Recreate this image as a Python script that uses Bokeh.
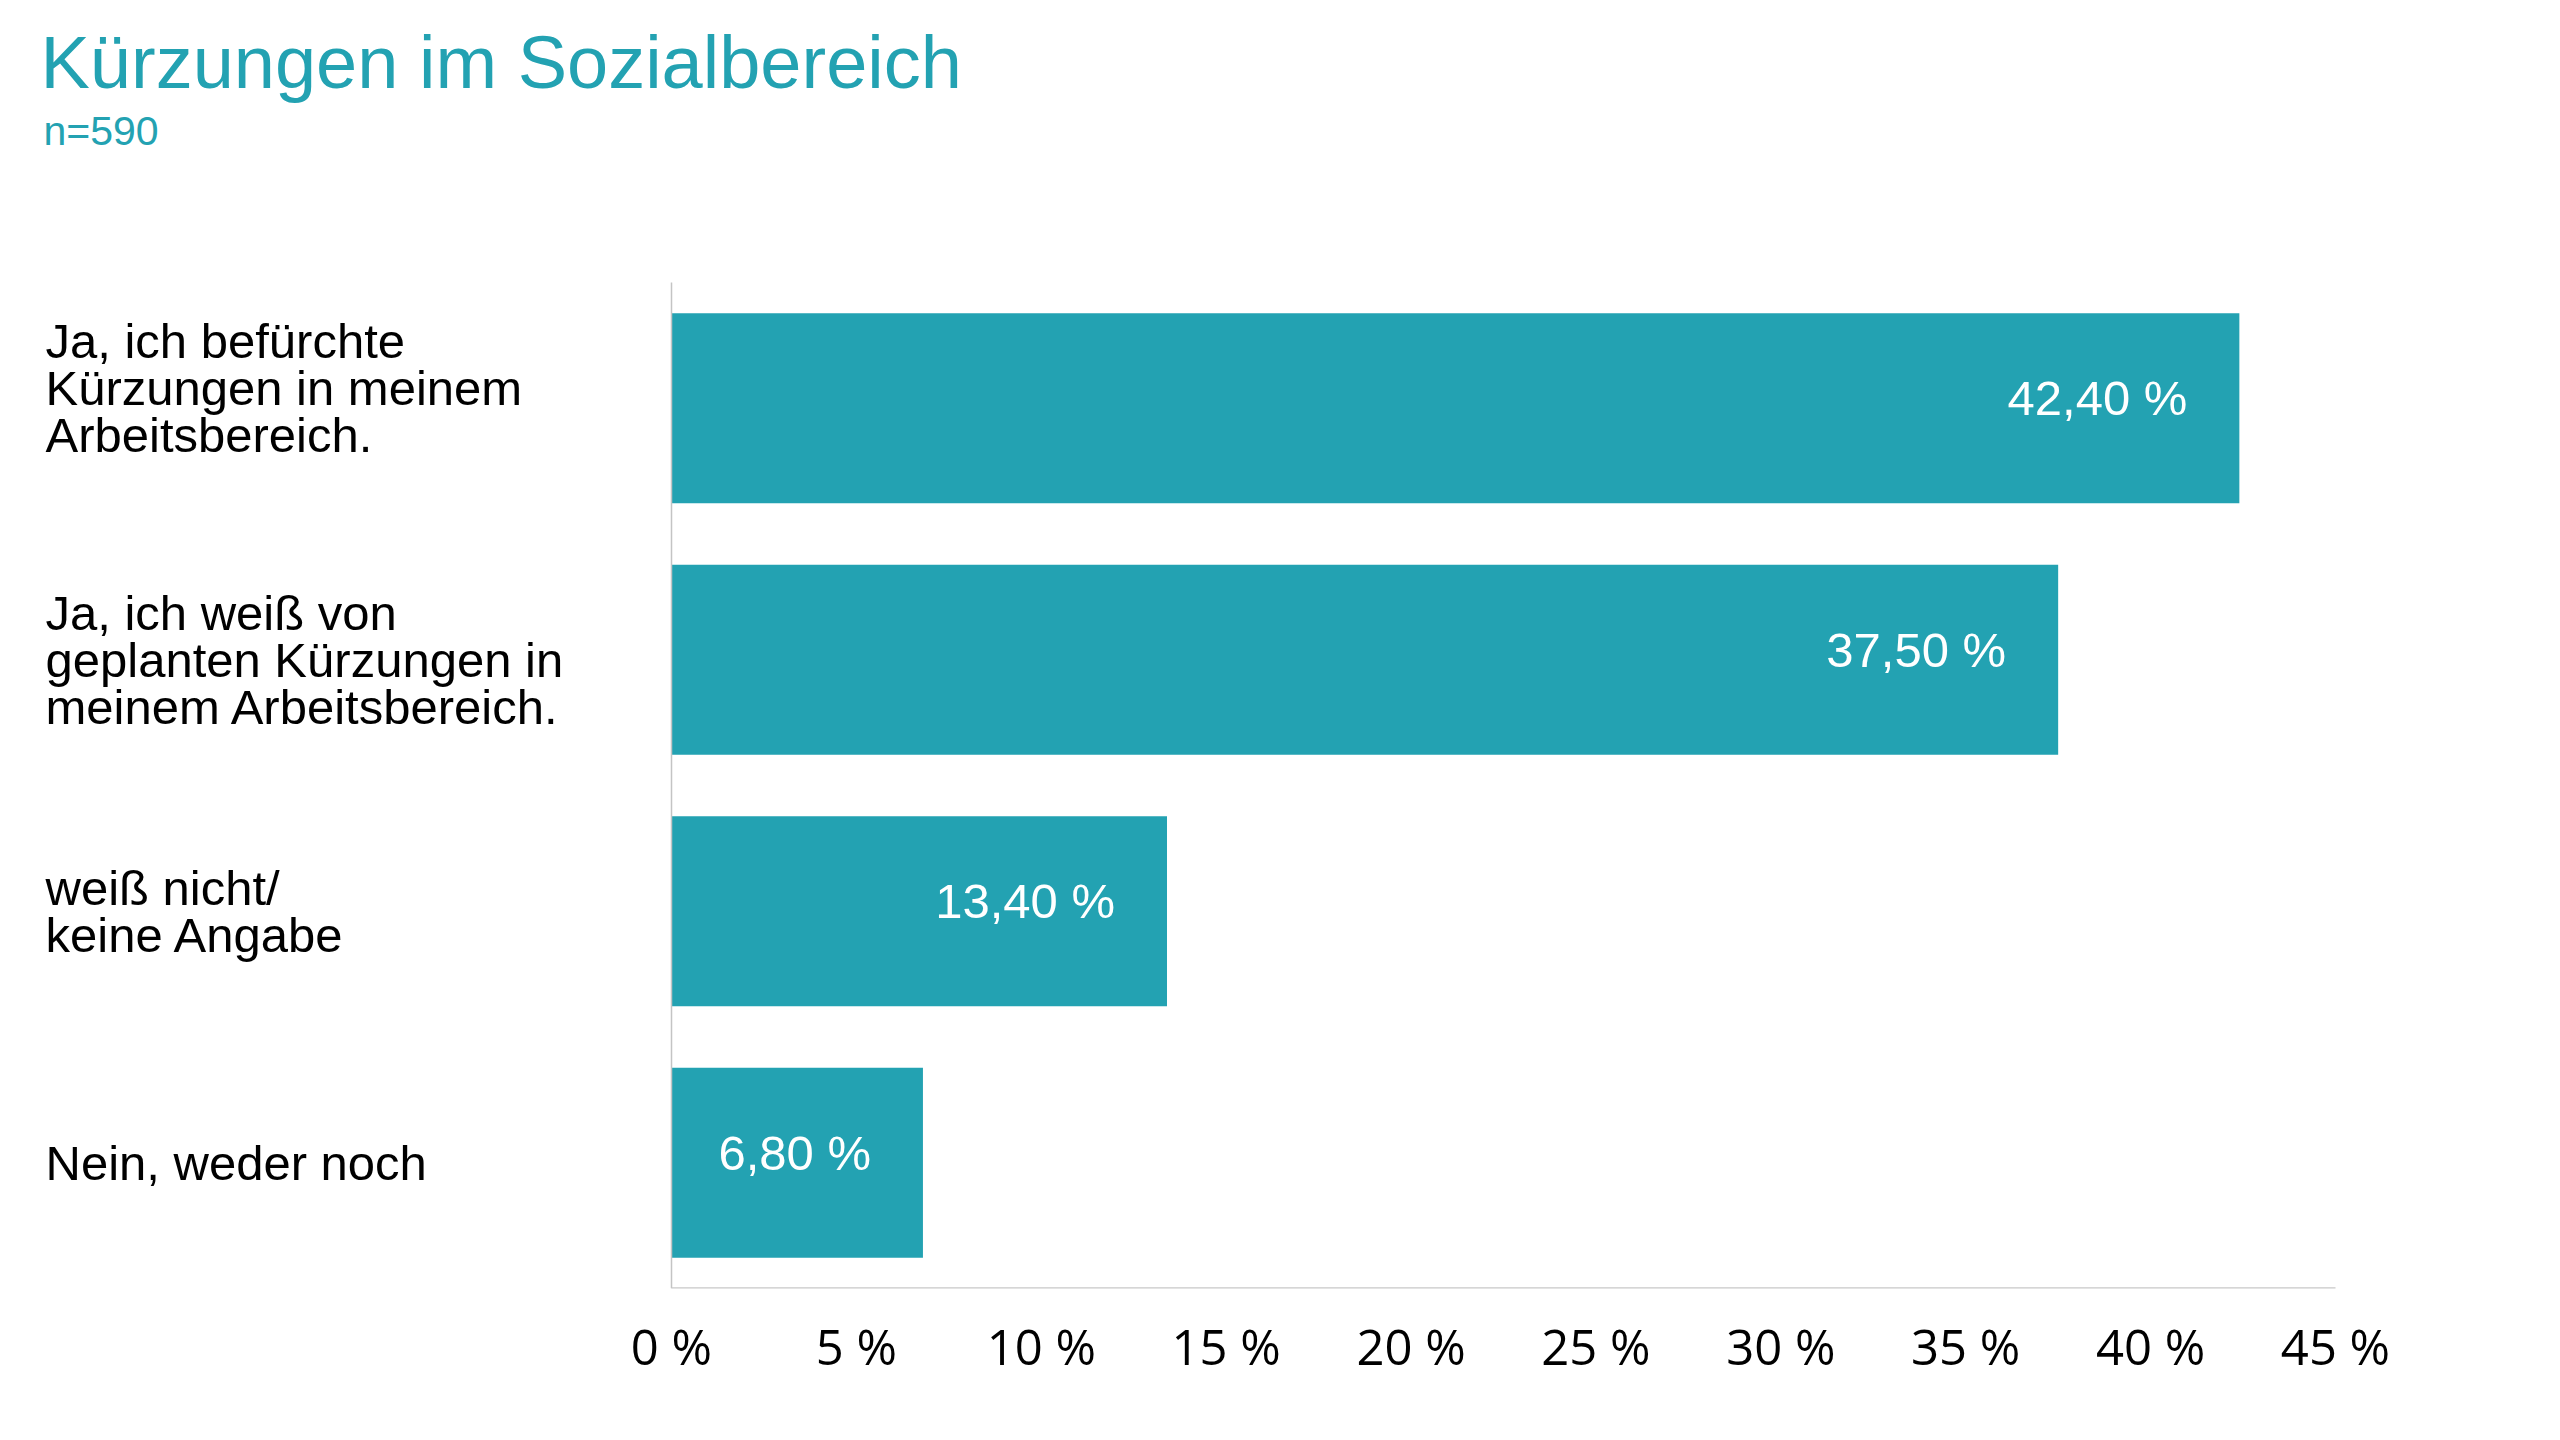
from bokeh.plotting import figure
from bokeh.models import Range1d, FixedTicker
from bokeh.core.properties import value
from bokeh.embed import file_html
from bokeh.resources import INLINE

# ---- data ----
title_text = "Kürzungen im Sozialbereich"
subtitle_text = "n=590"
categories = [
    "Ja, ich befürchte\nKürzungen in meinem\nArbeitsbereich.",
    "Ja, ich weiß von\ngeplanten Kürzungen in\nmeinem Arbeitsbereich.",
    "weiß nicht/\nkeine Angabe",
    "Nein, weder noch",
]
values = [42.40, 37.50, 13.40, 6.80]
value_labels = ["42,40 %", "37,50 %", "13,40 %", "6,80 %"]
x_ticks = [0, 5, 10, 15, 20, 25, 30, 35, 40, 45]
x_tick_labels = ["0 %", "5 %", "10 %", "15 %", "20 %", "25 %", "30 %", "35 %", "40 %", "45 %"]

# ---- layout (pixels) ----
W, H = 2544, 1420
frame_bottom_px = 1288
BOTTOM = H - frame_bottom_px
frame_h = frame_bottom_px
x0_px, x45_px = 671, 2335
plot_top_px = 282
xscale = (x45_px - x0_px) / 45.0
x_start = -x0_px / xscale
x_end = 45 + (W - x45_px) / xscale
n = len(categories)
yscale = (frame_h - plot_top_px) / n
y_end = n + plot_top_px / yscale
label_nudge = [-20, 0, 0, 0]  # vertical screen nudge of category label blocks

TEAL = "#23A2B2"

p = figure(width=W, height=H, output_backend="svg", toolbar_location=None,
           x_range=Range1d(x_start, x_end), y_range=Range1d(0, y_end),
           y_axis_location=None, min_border_left=0, min_border_right=0,
           min_border_top=0, min_border_bottom=BOTTOM)
p.outline_line_color = None
p.xgrid.visible = False
p.ygrid.visible = False
p.background_fill_color = "white"
p.border_fill_color = "white"

ys = [n - i - 0.5 for i in range(n)]

p.hbar(y=ys, left=0, right=values, height=0.756, fill_color=TEAL, line_color=None)

# axis lines
p.segment(x0=[0], y0=[0], x1=[0], y1=[n], line_color="#c4c4c4", line_width=1.5)
p.segment(x0=[0], y0=[0], x1=[x_ticks[-1]], y1=[0], line_color="#c8c8c8", line_width=2.5)

# value labels
p.text(x=values, y=ys, text=value_labels, text_align="right", text_baseline="middle",
       x_offset=-52, y_offset=-10, text_color="white", text_font=value("Liberation Sans"),
       text_font_size="49px")

# category labels
p.text(x=[x_start] * n, y=ys, text=categories, text_align="left", text_baseline="middle",
       x_offset=45, y_offset=label_nudge, text_color="#000000",
       text_font=value("Liberation Sans"), text_font_size="49px", text_line_height=0.87)

# title + subtitle
p.text(x=[x_start], y=[y_end], text=[title_text], x_offset=40, y_offset=62,
       text_baseline="alphabetic", text_align="left", text_color=TEAL,
       text_font=value("Liberation Sans"), text_font_size="74px")
p.text(x=[x_start], y=[y_end], text=[subtitle_text], x_offset=43, y_offset=130,
       text_baseline="alphabetic", text_align="left", text_color=TEAL,
       text_font=value("Liberation Sans"), text_font_size="41px")

ax = p.xaxis[0]
ax.ticker = FixedTicker(ticks=x_ticks)
ax.major_label_overrides = {t: l for t, l in zip(x_ticks, x_tick_labels)}
ax.axis_line_color = None
ax.major_tick_line_color = None
ax.minor_tick_line_color = None
ax.major_label_text_font = "Open Sans"
ax.major_label_text_font_size = "49px"
ax.major_label_text_color = "black"
ax.major_label_standoff = 18

open("out.html", "w").write(file_html(p, INLINE))
